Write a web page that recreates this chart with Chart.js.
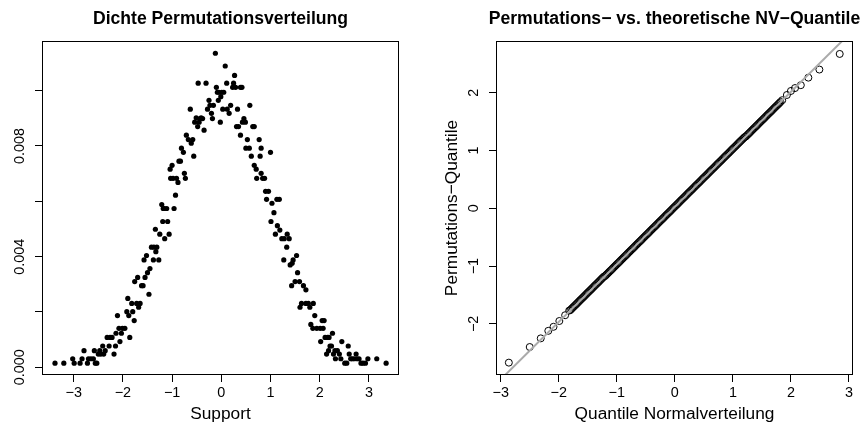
<!DOCTYPE html>
<html>
<head>
<meta charset="utf-8">
<script src="https://cdn.jsdelivr.net/npm/chart.js@4"></script>
<style>
html,body{margin:0;padding:0;background:#fff}
#wrap{display:flex;width:864px;height:430px}
.cell{width:432px;height:430px}
</style>
</head>
<body>
<div id="wrap">
<div class="cell"><canvas id="graficoDichte" width="432" height="430"></canvas></div>
<div class="cell"><canvas id="graficoQQ" width="432" height="430"></canvas></div>
</div>
<script>
// linke Grafik: Dichte der Permutationsverteilung (Support, Dichte)
let dichteX=[-3.38,-3.20,-3.02,-2.99,-2.87,-2.83,-2.79,-2.72,-2.70,-2.65,-2.60,-2.58,-2.56,-2.53,-2.50,-2.47,-2.45,-2.41,-2.39,-2.36,
-2.32,-2.28,-2.26,-2.22,-2.18,-2.15,-2.14,-2.11,-2.08,-2.06,-2.03,-2.01,-1.96,-1.92,-1.90,-1.88,-1.86,-1.82,-1.80,-1.77,
-1.76,-1.72,-1.70,-1.68,-1.65,-1.62,-1.59,-1.57,-1.55,-1.52,-1.50,-1.47,-1.45,-1.42,-1.38,-1.37,-1.34,-1.33,-1.31,-1.27,
-1.25,-1.21,-1.19,-1.18,-1.16,-1.15,-1.11,-1.09,-1.06,-1.04,-1.03,-1.00,-0.98,-0.96,-0.93,-0.91,-0.88,-0.86,-0.83,-0.81,
-0.77,-0.75,-0.73,-0.71,-0.67,-0.63,-0.61,-0.58,-0.56,-0.54,-0.51,-0.48,-0.47,-0.45,-0.43,-0.41,-0.38,-0.35,-0.31,-0.28,
-0.25,-0.23,-0.20,-0.18,-0.16,-0.12,-0.10,-0.08,-0.06,-0.05,-0.02,-0.01,
0.01,0.03,0.05,0.08,0.11,0.12,0.16,0.19,0.23,0.25,0.27,0.29,0.33,0.31,0.35,0.39,0.42,0.39,0.43,0.46,
0.49,0.50,0.53,0.57,0.58,0.61,0.64,0.67,0.67,0.71,0.72,0.77,0.79,0.81,0.81,0.84,0.88,0.90,0.92,0.96,
1.00,1.01,1.03,1.07,1.10,1.13,1.14,1.18,1.19,1.23,1.27,1.28,1.33,1.34,1.38,1.40,1.44,1.43,1.46,1.50,
1.53,1.55,1.59,1.60,1.63,1.67,1.72,1.72,1.77,1.80,1.82,1.86,1.87,1.90,1.94,2.01,2.02,2.05,2.07,2.09,
2.11,2.14,2.16,2.18,2.19,2.21,2.24,2.26,2.28,2.31,2.32,2.36,2.40,2.43,2.45,2.51,2.55,2.58,2.60,2.63,
2.66,2.70,2.74,2.76,2.80,2.84,2.88,2.93,2.98,3.16,3.35]
let dichteY=[0.00015,0.00015,0.00031,0.00015,0.00015,0.00031,0.00060,0.00015,0.00031,0.00031,0.00031,0.00060,0.00015,0.00015,0.00048,0.00060,0.00048,0.00077,0.00048,0.00060,
0.00108,0.00077,0.00108,0.00108,0.00048,0.00077,0.00123,0.00187,0.00141,0.00093,0.00123,0.00141,0.00141,0.00201,0.00249,0.00187,0.00108,0.00231,0.00201,0.00169,
0.00310,0.00231,0.00325,0.00217,0.00231,0.00295,0.00295,0.00388,0.00325,0.00404,0.00342,0.00264,0.00357,0.00434,0.00388,0.00434,0.00499,0.00418,0.00434,0.00388,
0.00481,0.00588,0.00527,0.00574,0.00574,0.00465,0.00574,0.00527,0.00481,0.00716,0.00683,0.00730,0.00683,0.00574,0.00622,0.00683,0.00668,0.00745,0.00745,0.00792,
0.00777,0.00701,0.00683,0.00839,0.00823,0.00933,0.00810,0.00823,0.00763,0.00886,0.00902,0.00870,0.01027,0.00886,0.00899,0.00902,0.00899,0.00857,0.01027,0.00933,
0.00965,0.00947,0.00918,0.00899,0.00947,0.01135,0.01012,0.00994,0.00965,0.00994,0.00886,0.00978,
0.00994,0.00933,0.00994,0.01089,0.01027,0.00933,0.00918,0.00947,0.01012,0.01027,0.01055,0.01012,0.00933,0.00870,0.00870,0.01012,0.01012,0.00839,0.00886,0.00899,
0.00886,0.00792,0.00823,0.00792,0.00947,0.00763,0.00870,0.00870,0.00730,0.00716,0.00683,0.00823,0.00763,0.00701,0.00792,0.00683,0.00683,0.00636,0.00607,0.00636,
0.00777,0.00527,0.00593,0.00559,0.00481,0.00607,0.00512,0.00607,0.00496,0.00465,0.00388,0.00465,0.00434,0.00481,0.00465,0.00370,0.00376,0.00295,0.00388,0.00310,
0.00404,0.00342,0.00310,0.00217,0.00231,0.00295,0.00280,0.00231,0.00231,0.00217,0.00155,0.00141,0.00231,0.00187,0.00141,0.00141,0.00093,0.00169,0.00141,0.00169,
0.00108,0.00048,0.00108,0.00060,0.00108,0.00077,0.00077,0.00123,0.00048,0.00060,0.00031,0.00060,0.00048,0.00031,0.00093,0.00015,0.00015,0.00077,0.00048,0.00031,
0.00031,0.00031,0.00048,0.00031,0.00031,0.00015,0.00015,0.00015,0.00031,0.00031,0.00015]
let dichteXTicks=[-3,-2,-1,0,1,2,3]
let dichteYTicks=[0,0.002,0.004,0.006,0.008,0.010]
let dichteYLabels=[0,0.004,0.008]

// rechte Grafik: Q-Q-Plot (theoretische vs. Permutations-Quantile)
let qqX=[-2.86,-2.50,-2.31,-2.18,-2.09,-1.99,-1.89,-1.82,
-1.80,-1.78,-1.76,-1.74,-1.72,-1.70,-1.68,-1.66,-1.64,-1.62,-1.60,-1.58,-1.56,-1.54,-1.52,-1.50,-1.48,-1.46,-1.44,-1.42,-1.40,-1.38,-1.36,-1.34,-1.32,-1.30,-1.28,-1.26,-1.24,-1.22,
-1.20,-1.18,-1.16,-1.14,-1.12,-1.10,-1.08,-1.06,-1.04,-1.02,-1.00,-0.98,-0.96,-0.94,-0.92,-0.90,-0.88,-0.86,-0.84,-0.82,-0.80,-0.78,-0.76,-0.74,-0.72,-0.70,-0.68,-0.66,-0.64,-0.62,
-0.60,-0.58,-0.56,-0.54,-0.52,-0.50,-0.48,-0.46,-0.44,-0.42,-0.40,-0.38,-0.36,-0.34,-0.32,-0.30,-0.28,-0.26,-0.24,-0.22,-0.20,-0.18,-0.16,-0.14,-0.12,-0.10,-0.08,-0.06,-0.04,-0.02,
0.00,0.02,0.04,0.06,0.08,0.10,0.12,0.14,0.16,0.18,0.20,0.22,0.24,0.26,0.28,0.30,0.32,0.34,0.36,0.38,0.40,0.42,0.44,0.46,0.48,0.50,0.52,0.54,0.56,0.58,
0.60,0.62,0.64,0.66,0.68,0.70,0.72,0.74,0.76,0.78,0.80,0.82,0.84,0.86,0.88,0.90,0.92,0.94,0.96,0.98,1.00,1.02,1.04,1.06,1.08,1.10,1.12,1.14,1.16,1.18,1.20,
1.22,1.24,1.26,1.28,1.30,1.32,1.34,1.36,1.38,1.40,1.42,1.44,1.46,1.48,1.50,1.52,1.54,1.56,1.58,1.60,1.62,1.64,1.66,1.68,1.70,1.72,1.74,1.76,1.78,1.80,1.82,
1.85,1.93,2.00,2.07,2.17,2.30,2.49,2.84]
let qqY=[-2.67,-2.40,-2.25,-2.12,-2.05,-1.95,-1.85,-1.77,
-1.76,-1.74,-1.72,-1.70,-1.68,-1.66,-1.64,-1.62,-1.60,-1.58,-1.56,-1.54,-1.52,-1.50,-1.48,-1.46,-1.44,-1.42,-1.40,-1.38,-1.36,-1.34,-1.32,-1.30,-1.28,-1.26,-1.24,-1.22,-1.20,-1.18,
-1.17,-1.15,-1.13,-1.11,-1.09,-1.07,-1.05,-1.03,-1.01,-0.99,-0.97,-0.95,-0.93,-0.91,-0.89,-0.87,-0.85,-0.83,-0.81,-0.79,-0.77,-0.75,-0.73,-0.71,-0.69,-0.67,-0.65,-0.63,-0.61,-0.59,
-0.57,-0.55,-0.53,-0.51,-0.49,-0.47,-0.45,-0.43,-0.41,-0.39,-0.37,-0.35,-0.33,-0.31,-0.29,-0.27,-0.25,-0.23,-0.21,-0.19,-0.17,-0.15,-0.13,-0.11,-0.09,-0.07,-0.05,-0.03,-0.01,0.01,
0.03,0.05,0.07,0.09,0.11,0.13,0.15,0.17,0.19,0.21,0.23,0.25,0.27,0.29,0.31,0.33,0.35,0.37,0.39,0.41,0.43,0.45,0.47,0.49,0.51,0.53,0.55,0.57,0.59,0.61,
0.63,0.65,0.67,0.69,0.71,0.73,0.75,0.77,0.79,0.81,0.83,0.85,0.87,0.89,0.91,0.93,0.95,0.97,0.99,1.01,1.03,1.05,1.07,1.09,1.11,1.13,1.15,1.17,1.19,1.21,1.23,
1.24,1.26,1.28,1.30,1.32,1.34,1.36,1.38,1.40,1.42,1.44,1.46,1.48,1.50,1.52,1.54,1.56,1.58,1.60,1.62,1.64,1.66,1.68,1.70,1.72,1.74,1.76,1.78,1.80,1.82,1.84,
1.87,1.96,2.03,2.08,2.13,2.26,2.40,2.67]
let qqLinieX=[-3.2,3.2]
let qqLinieY=[-3.16,3.21]
let qqXTicks=[-3,-2,-1,0,1,2,3]
let qqYTicks=[-2,-1,0,1,2]

const schrift="'Liberation Sans', Arial, Helvetica, sans-serif"

function minus(v){
return v<0 ? "\u2212"+Math.abs(v) : String(v)
}

// R-artiger Rahmen, gedrehte y-Beschriftung und Haupttitel
const rBasis={
id:"rBasis",
afterDraw(chart,args,opts){
const ctx=chart.ctx
const a=chart.chartArea
ctx.save()
ctx.strokeStyle="#000"
ctx.lineWidth=1
ctx.strokeRect(Math.round(a.left)+0.5,Math.round(a.top)+0.5,Math.round(a.right-a.left)-1,Math.round(a.bottom-a.top)-1)
ctx.fillStyle="#000"
ctx.textAlign="center"
ctx.textBaseline="middle"
ctx.font="14.4px "+schrift
const y=chart.scales.y
opts.yLabels.forEach(v=>{
ctx.save()
ctx.translate(opts.yLabelX,y.getPixelForValue(v))
ctx.rotate(-Math.PI/2)
ctx.fillText(opts.fmt(v),0,0)
ctx.restore()
})
ctx.font="bold 17.6px "+schrift
ctx.fillText(opts.titel,(a.left+a.right)/2,opts.titelY)
ctx.restore()
}
}

function achseX(min,max,ticks,titel){
return {
type:"linear",min:min,max:max,
afterBuildTicks:s=>{s.ticks=ticks.map(v=>({value:v}))},
afterFit:s=>{s.height=55},
border:{display:false},
grid:{drawOnChartArea:false,drawTicks:true,tickLength:7,color:"#000",tickColor:"#000",lineWidth:1},
ticks:{color:"#000",font:{family:schrift,size:14.4},padding:2,maxRotation:0,autoSkip:false,callback:v=>minus(v)},
title:{display:true,text:titel,color:"#000",font:{family:schrift,size:17.3},padding:{top:0,bottom:5}}
}
}

function achseY(min,max,ticks,breite,titel){
let t={
type:"linear",min:min,max:max,
afterBuildTicks:s=>{s.ticks=ticks.map(v=>({value:v}))},
afterFit:s=>{s.width=breite},
border:{display:false},
grid:{drawOnChartArea:false,drawTicks:true,tickLength:7,color:"#000",tickColor:"#000",lineWidth:1},
ticks:{display:false}
}
if(titel)t.title={display:true,text:titel,color:"#000",font:{family:schrift,size:17.3},padding:{top:10,bottom:0}}
return t
}

new Chart(graficoDichte,{
type:"scatter",
data:{
datasets:[{
data:dichteX.map((x,i)=>({x:x,y:dichteY[i]})),
pointRadius:2.6,
pointBackgroundColor:"#000",
pointBorderWidth:0
}]
},
options:{
responsive:false,animation:false,devicePixelRatio:1,
layout:{padding:{top:41,right:33,left:0,bottom:0}},
plugins:{
legend:{display:false},tooltip:{enabled:false},
rBasis:{yLabels:dichteYLabels,yLabelX:20,fmt:v=>v.toFixed(3),titel:"Dichte Permutationsverteilung",titelY:19}
},
scales:{
x:achseX(-3.644,3.612,dichteXTicks,"Support"),
y:achseY(-0.000278,0.011793,dichteYTicks,42,null)
}
},
plugins:[rBasis]
})

new Chart(graficoQQ,{
type:"scatter",
data:{
datasets:[{
type:"line",
data:qqLinieX.map((x,i)=>({x:x,y:qqLinieY[i]})),
borderColor:"#aaaaaa",
borderWidth:2,
pointRadius:0,
showLine:true,
fill:false
},{
data:qqX.map((x,i)=>({x:x,y:qqY[i]})),
pointRadius:3.5,
pointBackgroundColor:"rgba(0,0,0,0)",
pointBorderColor:"#000",
pointBorderWidth:1
}]
},
options:{
responsive:false,animation:false,devicePixelRatio:1,
layout:{padding:{top:41,right:11,left:0,bottom:0}},
plugins:{
legend:{display:false},tooltip:{enabled:false},
rBasis:{yLabels:qqYTicks,yLabelX:42,fmt:v=>minus(v),titel:"Permutations\u2212 vs. theoretische NV\u2212Quantile",titelY:19}
},
scales:{
x:achseX(-3.081,3.069,qqXTicks,"Quantile Normalverteilung"),
y:achseY(-2.884,2.894,qqYTicks,64,"Permutations\u2212Quantile")
}
},
plugins:[rBasis]
})
</script>
</body>
</html>
